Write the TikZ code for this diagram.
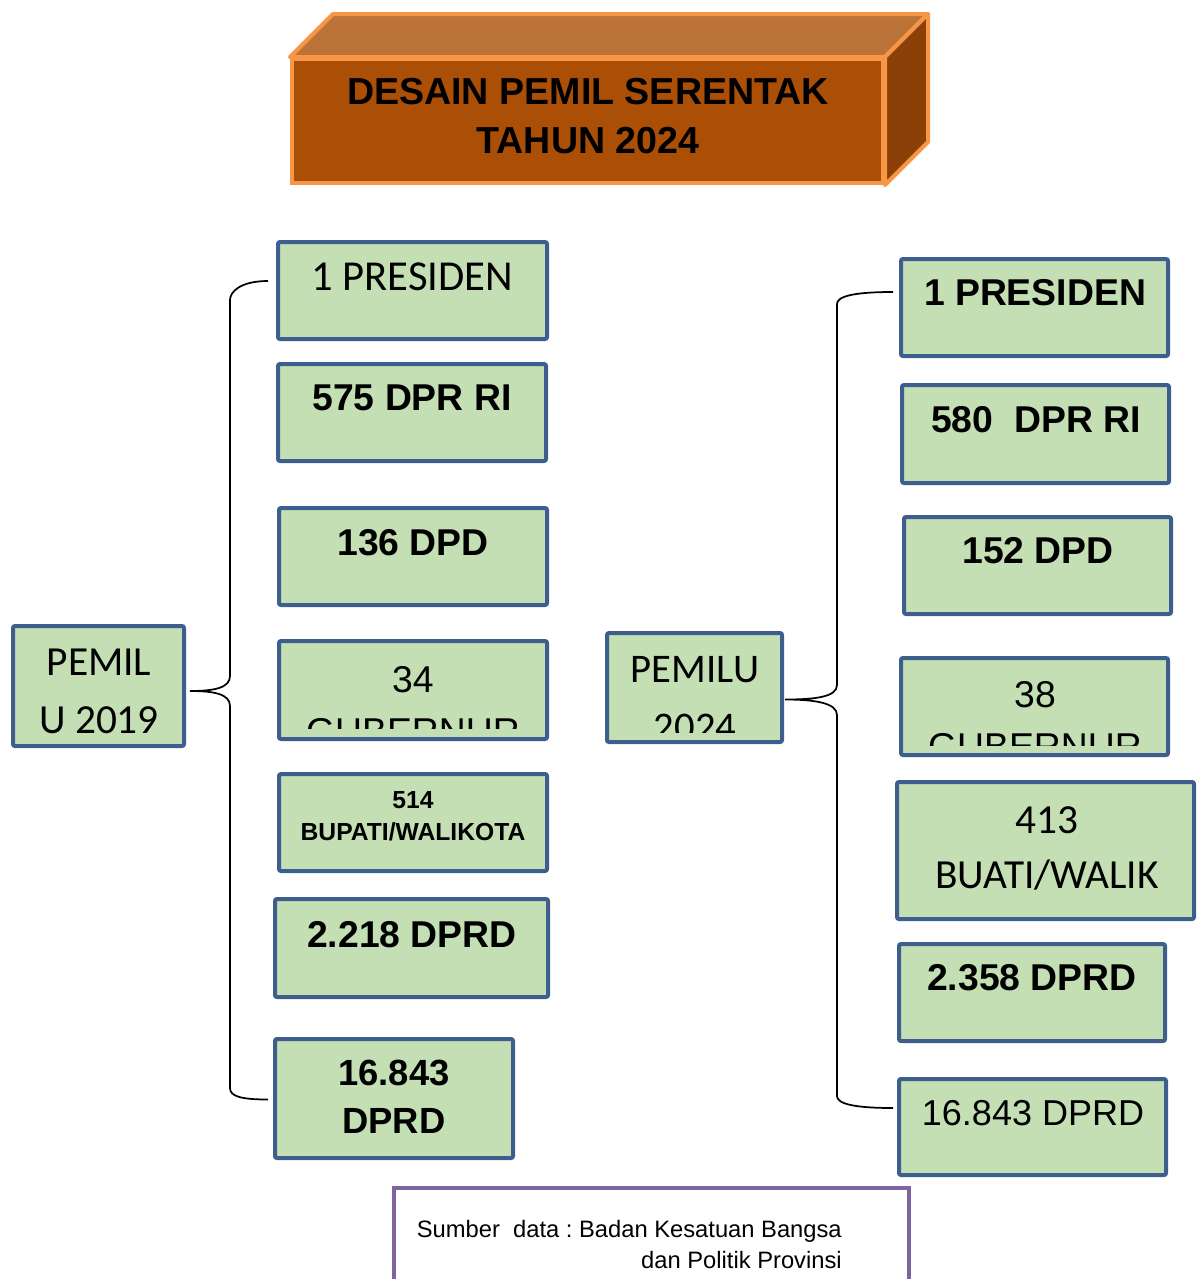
\documentclass[tikz,border=0pt]{standalone}
\usepackage{fontspec}
\setmainfont{Liberation Sans}
\newfontfamily\calfont{Carlito}
\usepackage{tikz}
\usetikzlibrary{calc}
\definecolor{boxG}{HTML}{C4DFB4}
\definecolor{boxB}{HTML}{3E5F8E}
\definecolor{ttlF}{HTML}{AB4E06}
\definecolor{ttlT}{HTML}{BB7337}
\definecolor{ttlS}{HTML}{8A4006}
\definecolor{ttlO}{HTML}{F79646}
\definecolor{srcP}{HTML}{8064A2}
\newcommand{\fsz}[1]{\fontsize{#1pt}{#1pt}\selectfont}
\frenchspacing

\begin{document}
\begin{tikzpicture}[x=0.75pt,y=-0.75pt,
  gbox/.style={draw=boxB, fill=boxG, line width=3pt, rounded corners=1.5pt, inner sep=0pt},
  lbl/.style={anchor=base, inner sep=0pt},
  brace/.style={line width=1.3pt, black}]
  \useasboundingbox (0,0) rectangle (1198,1279);
  % title block
  \node[fill=ttlF, draw=ttlO, line width=3pt, inner sep=0pt,
        minimum width={591*0.75pt}, minimum height={124*0.75pt}] (title) at (587.5,121) {};
  \filldraw[fill=ttlT, draw=ttlO, line width=3pt, line join=round]
     (title.north west) -- ++(43,-43) -- ($(title.north east)+(43,-43)$) -- (title.north east) -- cycle;
  \filldraw[fill=ttlS, draw=ttlO, line width=3pt, line join=round]
     (title.north east) -- ++(43,-43) -- ($(title.south east)+(43,-43)$) -- (title.south east) -- cycle;
  \node[lbl, font=\bfseries\fsz{28.2}] (ttl1) at (588,104) {DESAIN PEMIL SERENTAK};
  \node[lbl, font=\bfseries\fsz{28.2}] (ttl2) at (588,153) {TAHUN 2024};
  % boxes
  \foreach \nm/\xa/\ya/\xb/\yb in {pres19/276/240/549/341, dpr19/276/362/548/463,
      dpd19/277/506/549/607, gub19/277/639/549/741, bup19/277/772/549/873,
      dprd19/273/897/550/999, dprdk19/273/1037/515/1160, pemil19/11/624/186/748,
      pres24/899/257/1170/358, dpr24/900/383/1171/485, dpd24/902/515/1173/616,
      gub24/899/656/1170/757, bup24/895/780/1196/921, dprd24/897/942/1167/1043,
      dprdk24/897/1077/1168/1177, pemilu24/605/631/784/744}{
     \node[gbox, minimum width={(\xb-\xa-4)*0.75pt}, minimum height={(\yb-\ya-4)*0.75pt}]
        (\nm) at ({(\xa+\xb)/2},{(\ya+\yb)/2}) {};
  }
  % 2019 labels
  \node[lbl, font=\calfont\fsz{32}] (tpres19) at (412,290) {1 PRESIDEN};
  \node[lbl, font=\bfseries\fsz{28}] (tdpr19) at (412,410) {575 DPR RI};
  \node[lbl, font=\bfseries\fsz{28}] (tdpd19) at (413,555) {136 DPD};
  \begin{scope}
     \clip (281,643) rectangle (545,728);
     \node[lbl, font=\fsz{28}] (tgub19a) at (413,692) {34};
     \node[lbl, font=\fsz{28}] (tgub19b) at (413,744) {GUBERNUR};
  \end{scope}
  \node[lbl, font=\bfseries\fsz{18.5}] (tbup19a) at (413,808) {514};
  \node[lbl, font=\bfseries\fsz{18.5}] (tbup19b) at (413,840) {BUPATI/WALIKOTA};
  \node[lbl, font=\bfseries\fsz{28}] (tdprd19) at (412,947) {2.218 DPRD};
  \node[lbl, font=\bfseries\fsz{27.3}] (tdprdk19a) at (394,1085) {16.843};
  \node[lbl, font=\bfseries\fsz{27.3}] (tdprdk19b) at (394,1133) {DPRD};
  \node[lbl, font=\calfont\fsz{31}] (tpemil19a) at (99,675) {PEMIL};
  \node[lbl, font=\calfont\fsz{31}] (tpemil19b) at (99,733) {U 2019};
  % 2024 labels
  \node[lbl, font=\bfseries\fsz{28}] (tpres24) at (1035,305) {1 PRESIDEN};
  \node[lbl, font=\bfseries\fsz{28}] (tdpr24) at (1036,432) {580\ \ DPR RI};
  \node[lbl, font=\bfseries\fsz{28}] (tdpd24) at (1038,563) {152 DPD};
  \begin{scope}
     \clip (903,660) rectangle (1166,745);
     \node[lbl, font=\fsz{28}] (tgub24a) at (1035,707) {38};
     \node[lbl, font=\fsz{28}] (tgub24b) at (1035,759) {GUBERNUR};
  \end{scope}
  \node[lbl, font=\calfont\fsz{31}] (tbup24a) at (1047,833) {413};
  \node[lbl, font=\calfont\fsz{31}] (tbup24b) at (1047,888) {BUATI/WALIK};
  \node[lbl, font=\bfseries\fsz{28}] (tdprd24) at (1032,990) {2.358 DPRD};
  \node[lbl, font=\fsz{27}] (tdprdk24) at (1033,1125) {16.843 DPRD};
  \node[lbl, font=\calfont\fsz{30.5}] (tpemilu24a) at (695,682) {PEMILU};
  \begin{scope}
     \clip (609,635) rectangle (780,732);
     \node[lbl, font=\calfont\fsz{30.5}] (tpemilu24b) at (695,740) {2024};
  \end{scope}
  % braces
  \draw[brace] ($(pres19.north west)+(-8,41)$) .. controls +(-28,0) and +(0,-8) .. (230,300)
     -- (230,676) .. controls +(0,12) and +(24,0) .. ($(pemil19.east)+(4,5)$)
     .. controls +(24,0) and +(0,-12) .. (230,706)
     -- (230,1088) .. controls +(0,8) and +(-28,0) .. ($(dprdk19.west)+(-5,1)$);
  \draw[brace] ($(pres24.north west)+(-6,35)$) .. controls +(-38,0) and +(0,-8) .. (837,304)
     -- (837,685) .. controls +(0,12) and +(30,0) .. ($(pemilu24.east)+(1,12)$)
     .. controls +(30,0) and +(0,-12) .. (837,715)
     -- (837,1096) .. controls +(0,8) and +(-38,0) .. ($(dprdk24.north west)+(-4,31)$);
  % source box
  \node[draw=srcP, line width=3pt, inner sep=0pt, minimum width={515*0.75pt},
        minimum height={120*0.75pt}] (src) at (651.5,1248) {};
  \node[lbl, anchor=base east, font=\fsz{17.8}] (tsrc1) at (842,1237) {Sumber\ \ data : Badan Kesatuan Bangsa};
  \node[lbl, anchor=base east, font=\fsz{17.8}] (tsrc2) at (842,1268) {dan Politik Provinsi};
\end{tikzpicture}
\end{document}
